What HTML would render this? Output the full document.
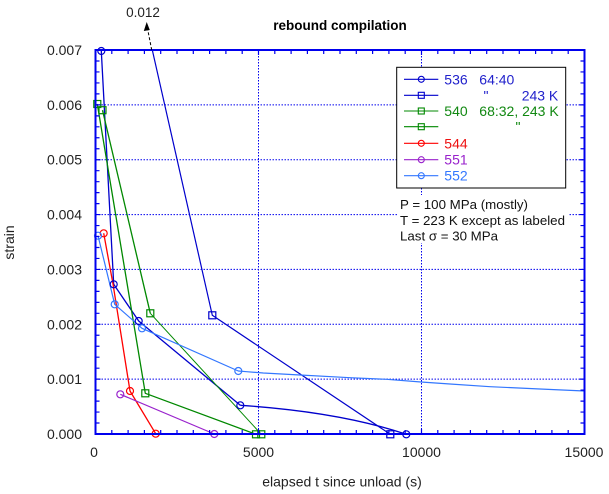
<!DOCTYPE html>
<html>
<head>
<meta charset="utf-8">
<style>
html,body{margin:0;padding:0;background:#fff;}
svg{display:block;}
text{font-family:"Liberation Sans",Arial,sans-serif;}
</style>
</head>
<body>
<svg width="609" height="494" viewBox="0 0 609 494" xmlns="http://www.w3.org/2000/svg">
<rect x="0" y="0" width="609" height="494" fill="#fff"/>

<!-- grid -->
<g stroke="#0000ee" stroke-width="1" stroke-dasharray="1.5 1.5" fill="none">
  <path d="M258.5,50V434 M421.5,50V434"/>
  <path d="M95.5,379.14H584.5 M95.5,324.29H584.5 M95.5,269.43H584.5 M95.5,214.58H584.5 M95.5,159.72H584.5 M95.5,104.87H584.5"/>
</g>

<!-- legend box & annotation bg -->
<rect x="396.7" y="67.3" width="169" height="120.7" fill="#fff" stroke="#000" stroke-width="1"/>
<rect x="398" y="195" width="170" height="48" fill="#fff"/>

<!-- series -->
<g fill="none" stroke-linejoin="round">
  <!-- 536 circles -->
  <polyline stroke="#0000cc" stroke-width="1.3" points="101.3,51 113.7,284.3 138.7,321 240.3,405.3"/>
  <path stroke="#0000cc" stroke-width="1.3" d="M240.3,405.3 Q340,412 406.3,434.3"/>
  <!-- 536 squares 243K -->
  <polyline stroke="#0000cc" stroke-width="1.2" points="152.3,50 212.3,315.3 390.3,434.3"/>
  <!-- 540 green A -->
  <polyline stroke="#008800" stroke-width="1.3" points="97.3,104 145.3,393.3 256,434.3"/>
  <!-- 540 green B -->
  <polyline stroke="#008800" stroke-width="1.3" points="102.5,110.2 150.3,313.3"/>
  <polyline stroke="#008800" stroke-width="1" points="150.3,313.3 261.3,434.3"/>
  <!-- 544 red -->
  <polyline stroke="#ff0000" stroke-width="1.3" points="103.7,233.3 113,284 130,391 155.7,433.7"/>
  <!-- 551 purple -->
  <polyline stroke="#9922cc" stroke-width="1.2" points="120.3,394.3 214.3,434"/>
  <!-- 552 light blue -->
  <polyline stroke="#3377ff" stroke-width="1.2" points="98,235.7 114.7,304.3 142,328.3 238.3,371 246.7,371.7 263.3,373 300,375 350,377.7 386.7,379.3 421,382 450,384 490,386.7 540,389 584.5,391"/>
</g>

<!-- markers -->
<g fill="none" stroke-width="1.2">
  <g stroke="#0000cc">
    <circle cx="101.3" cy="51" r="3.5"/>
    <circle cx="113.7" cy="284.3" r="3.5"/>
    <circle cx="138.7" cy="321" r="3.5"/>
    <circle cx="240.3" cy="405.3" r="3.5"/>
    <circle cx="406.3" cy="434.3" r="3.5"/>
    <rect x="208.8" y="311.8" width="7" height="7"/>
    <rect x="386.8" y="430.8" width="7" height="7"/>
  </g>
  <g stroke="#008800">
    <rect x="93.8" y="100.5" width="7" height="7"/>
    <rect x="99" y="106.7" width="7" height="7"/>
    <rect x="146.8" y="309.8" width="7" height="7"/>
    <rect x="141.8" y="389.8" width="7" height="7"/>
    <rect x="252.5" y="430.8" width="7" height="7"/>
    <rect x="257.8" y="430.8" width="7" height="7"/>
  </g>
  <g stroke="#ff0000">
    <circle cx="103.7" cy="233.3" r="3.5"/>
    <circle cx="130" cy="391" r="3.5"/>
    <circle cx="155.7" cy="433.7" r="3.5"/>
  </g>
  <g stroke="#9922cc">
    <circle cx="120.3" cy="394.3" r="3.5"/>
    <circle cx="214.3" cy="434" r="3.5"/>
  </g>
  <g stroke="#3377ff">
    <circle cx="98" cy="235.7" r="3.5"/>
    <circle cx="114.7" cy="304.3" r="3.5"/>
    <circle cx="142" cy="328.3" r="3.5"/>
    <circle cx="238.3" cy="371" r="3.5"/>
  </g>
</g>

<!-- axes frame and ticks -->
<g stroke="#0000ee" fill="none">
  <rect x="95.5" y="50" width="489" height="384" stroke-width="2"/>
  <path stroke-width="1.2" d="
M111.8,434v-4 M128.1,434v-4 M144.4,434v-4 M160.7,434v-4 M177,434v-4 M193.3,434v-4 M209.6,434v-4 M225.9,434v-4 M242.2,434v-4 M258.5,434v-5 M274.8,434v-4 M291.1,434v-4 M307.4,434v-4 M323.7,434v-4 M340,434v-4 M356.3,434v-4 M372.6,434v-4 M388.9,434v-4 M405.2,434v-4 M421.5,434v-5 M437.8,434v-4 M454.1,434v-4 M470.4,434v-4 M486.7,434v-4 M503,434v-4 M519.3,434v-4 M535.6,434v-4 M551.9,434v-4 M568.2,434v-4
M111.8,50v4 M128.1,50v4 M144.4,50v4 M160.7,50v4 M177,50v4 M193.3,50v4 M209.6,50v4 M225.9,50v4 M242.2,50v4 M258.5,50v5 M274.8,50v4 M291.1,50v4 M307.4,50v4 M323.7,50v4 M340,50v4 M356.3,50v4 M372.6,50v4 M388.9,50v4 M405.2,50v4 M421.5,50v5 M437.8,50v4 M454.1,50v4 M470.4,50v4 M486.7,50v4 M503,50v4 M519.3,50v4 M535.6,50v4 M551.9,50v4 M568.2,50v4
M95.5,423.03h4 M95.5,412.06h4 M95.5,401.09h4 M95.5,390.12h4 M95.5,379.14h5 M95.5,368.17h4 M95.5,357.2h4 M95.5,346.23h4 M95.5,335.26h4 M95.5,324.29h5 M95.5,313.32h4 M95.5,302.35h4 M95.5,291.38h4 M95.5,280.41h4 M95.5,269.43h5 M95.5,258.46h4 M95.5,247.49h4 M95.5,236.52h4 M95.5,225.55h4 M95.5,214.58h5 M95.5,203.61h4 M95.5,192.64h4 M95.5,181.67h4 M95.5,170.7h4 M95.5,159.72h5 M95.5,148.75h4 M95.5,137.78h4 M95.5,126.81h4 M95.5,115.84h4 M95.5,104.87h5 M95.5,93.9h4 M95.5,82.93h4 M95.5,71.96h4 M95.5,60.99h4
M584.5,423.03h-4 M584.5,412.06h-4 M584.5,401.09h-4 M584.5,390.12h-4 M584.5,379.14h-5 M584.5,368.17h-4 M584.5,357.2h-4 M584.5,346.23h-4 M584.5,335.26h-4 M584.5,324.29h-5 M584.5,313.32h-4 M584.5,302.35h-4 M584.5,291.38h-4 M584.5,280.41h-4 M584.5,269.43h-5 M584.5,258.46h-4 M584.5,247.49h-4 M584.5,236.52h-4 M584.5,225.55h-4 M584.5,214.58h-5 M584.5,203.61h-4 M584.5,192.64h-4 M584.5,181.67h-4 M584.5,170.7h-4 M584.5,159.72h-5 M584.5,148.75h-4 M584.5,137.78h-4 M584.5,126.81h-4 M584.5,115.84h-4 M584.5,104.87h-5 M584.5,93.9h-4 M584.5,82.93h-4 M584.5,71.96h-4 M584.5,60.99h-4
"/>
</g>

<!-- arrow to 0.012 -->
<path d="M151.7,50 L147.6,29" stroke="#000" stroke-width="1" stroke-dasharray="3 2" fill="none"/>
<polygon points="146.7,22 143.8,31 149.8,30" fill="#000"/>
<text x="143" y="17" font-size="13.5" text-anchor="middle" fill="#222">0.012</text>

<!-- title -->
<text x="340" y="30" font-size="13.5" font-weight="bold" text-anchor="middle" fill="#000">rebound compilation</text>

<!-- y tick labels -->
<g font-size="14" fill="#222" text-anchor="end">
  <text x="82" y="439">0.000</text>
  <text x="82" y="384.1">0.001</text>
  <text x="82" y="329.3">0.002</text>
  <text x="82" y="274.4">0.003</text>
  <text x="82" y="219.6">0.004</text>
  <text x="82" y="164.7">0.005</text>
  <text x="82" y="109.9">0.006</text>
  <text x="82" y="55">0.007</text>
</g>
<!-- x tick labels -->
<g font-size="14" fill="#222" text-anchor="middle">
  <text x="94" y="457">0</text>
  <text x="258.5" y="457">5000</text>
  <text x="421.5" y="457">10000</text>
  <text x="584" y="457">15000</text>
</g>

<!-- axis titles -->
<text x="342" y="486.5" font-size="14" text-anchor="middle" fill="#222">elapsed t since unload (s)</text>
<text transform="translate(14,242.5) rotate(-90)" font-size="14" text-anchor="middle" fill="#222">strain</text>

<!-- legend entries -->
<g fill="none" stroke-width="1.1">
  <g stroke="#0000cc">
    <path d="M404,79.3H438.3"/><circle cx="421.3" cy="79.3" r="3"/>
    <path d="M404,95.3H438.3"/><rect x="418.3" y="92.3" width="6" height="6"/>
  </g>
  <g stroke="#008800">
    <path d="M404,111H438.3"/><rect x="418.3" y="108" width="6" height="6"/>
    <path d="M404,126.7H438.3"/><rect x="418.3" y="123.7" width="6" height="6"/>
  </g>
  <g stroke="#ff0000"><path d="M404,143.3H438.3"/><circle cx="421.3" cy="143.3" r="3"/></g>
  <g stroke="#9922cc"><path d="M404,159.7H438.3"/><circle cx="421.3" cy="159.7" r="3"/></g>
  <g stroke="#3377ff"><path d="M404,175.7H438.3"/><circle cx="421.3" cy="175.7" r="3"/></g>
</g>
<g font-size="14">
  <text x="444.3" y="84.3" fill="#2222cc">536</text>
  <text x="479.3" y="84.3" fill="#2222cc">64:40</text>
  <text x="483.5" y="100.3" fill="#2222cc">"</text>
  <text x="521.7" y="100.3" fill="#2222cc">243 K</text>
  <text x="444.3" y="116" fill="#118811">540</text>
  <text x="479.3" y="116" fill="#118811">68:32, 243 K</text>
  <text x="515.5" y="131.7" fill="#118811">"</text>
  <text x="444.3" y="148.3" fill="#ee1111">544</text>
  <text x="444.3" y="164.7" fill="#9922cc">551</text>
  <text x="444.3" y="180.7" fill="#3377ff">552</text>
</g>

<!-- annotation -->
<g font-size="13.3" fill="#111">
  <text x="400" y="209">P = 100 MPa (mostly)</text>
  <text x="400" y="225">T = 223 K except as labeled</text>
  <text x="400" y="240.3">Last σ = 30 MPa</text>
</g>
</svg>
</body>
</html>
